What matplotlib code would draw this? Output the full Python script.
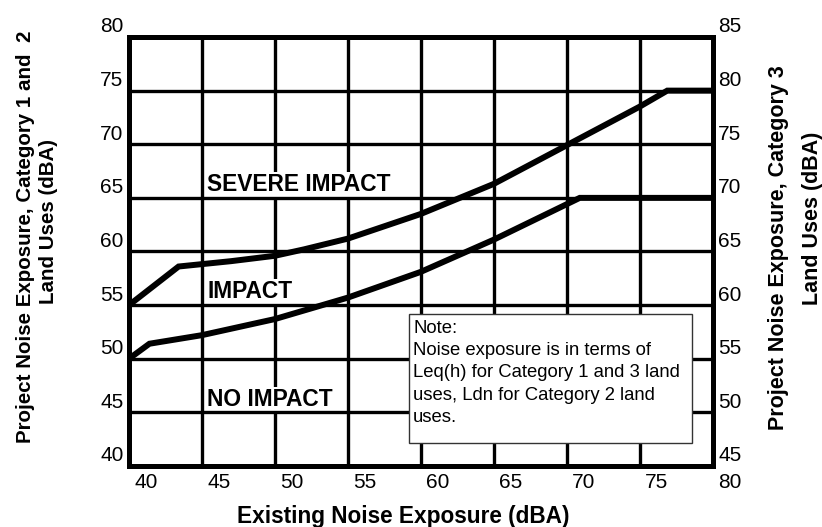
import matplotlib
matplotlib.use('Agg')
import matplotlib.pyplot as plt
from matplotlib.transforms import ScaledTranslation
from matplotlib.patches import Rectangle

plt.rcParams['font.family'] = ['Liberation Sans', 'DejaVu Sans']

# ---- data ----
x_ticks = [40, 45, 50, 55, 60, 65, 70, 75, 80]
y_left_ticks = [40, 45, 50, 55, 60, 65, 70, 75, 80]
y_right_ticks = [45, 50, 55, 60, 65, 70, 75, 80, 85]

severe_x = [40, 43.4, 47, 50, 52, 55, 60, 65, 70, 75, 76.9, 80]
severe_y = [55, 58.6, 59.1, 59.6, 60.2, 61.2, 63.5, 66.3, 69.9, 73.5, 75, 75]

impact_x = [40, 41.4, 45, 50, 53, 55, 60, 65, 70.9, 80]
impact_y = [50, 51.4, 52.2, 53.7, 54.9, 55.7, 58.1, 61.1, 65, 65]

zone_labels = ['SEVERE IMPACT', 'IMPACT', 'NO IMPACT']
note_text = ("Note:\nNoise exposure is in terms of\nLeq(h) for Category 1 and 3 land\n"
             "uses, Ldn for Category 2 land\nuses.")

W, H = 822, 527
fig = plt.figure(figsize=(W / 100, H / 100), dpi=100)
ax = fig.add_axes([129 / W, 1 - 466 / H, 583.5 / W, 429 / H])
ax.set_xlim(40, 80)
ax.set_ylim(40, 80)
ax.set_xticks(x_ticks)
ax.set_yticks(y_left_ticks)
ax.grid(True, color='black', linewidth=2.4)
ax.set_axisbelow(True)
# vertical grid lines under the zone labels, horizontal ones over their boxes
ax.xaxis.set_zorder(0.5)
ax.yaxis.set_zorder(3.5)

ax.plot(severe_x, severe_y, color='black', lw=4.3, solid_joinstyle='miter', zorder=2)
ax.plot(impact_x, impact_y, color='black', lw=4.3, solid_joinstyle='miter', zorder=2)

# zone labels
zone_pos = [(45.35, 65.64), (45.35, 55.66), (45.35, 45.59)]
for lab, (px, py) in zip(zone_labels, zone_pos):
    ax.text(px, py, lab, fontsize=16.4, fontweight='bold', ha='left', va='baseline',
            zorder=3, bbox=dict(facecolor='white', edgecolor='none', pad=1.0))

# note box
ax.add_patch(Rectangle((59.19, 42.14), 78.59 - 59.19, 54.17 - 42.14,
                       facecolor='white', edgecolor='#333333', lw=1.0, zorder=4))
ax.text(59.47, 53.61, note_text, fontsize=13.3, ha='left', va='top',
        linespacing=1.40, zorder=5)

ax.tick_params(length=0, labelsize=15, pad=5)
ax.tick_params(axis='y', pad=4)

ax2 = ax.twinx()
ax2.set_ylim(45, 85)
ax2.set_yticks(y_right_ticks)
ax2.tick_params(length=0, labelsize=15, pad=4)

for a in (ax, ax2):
    for s in a.spines.values():
        s.set_linewidth(3.6)
        s.set_color('black')

off_x = ScaledTranslation(0.17, 0, fig.dpi_scale_trans)
off_y = ScaledTranslation(0, 0.12, fig.dpi_scale_trans)
for lab in ax.get_xticklabels():
    lab.set_transform(lab.get_transform() + off_x)
for lab in ax.get_yticklabels():
    lab.set_transform(lab.get_transform() + off_y)
for lab in ax2.get_yticklabels():
    lab.set_transform(lab.get_transform() + off_y)

# axis titles
fig.text(403 / W, 1 - 517 / H, 'Existing Noise Exposure (dBA)', fontsize=16.3,
         fontweight='bold', ha='center', va='center')
fig.text(26 / W, 1 - 237 / H, 'Project Noise Exposure, Category 1 and  2', fontsize=14.8,
         fontweight='bold', ha='center', va='center', rotation=90)
fig.text(48 / W, 1 - 222 / H, 'Land Uses (dBA)', fontsize=14.8,
         fontweight='bold', ha='center', va='center', rotation=90)
fig.text(778 / W, 1 - 247.5 / H, 'Project Noise Exposure, Category 3', fontsize=15.5,
         fontweight='bold', ha='center', va='center', rotation=90)
fig.text(812 / W, 1 - 218.5 / H, 'Land Uses (dBA)', fontsize=15.5,
         fontweight='bold', ha='center', va='center', rotation=90)

fig.savefig('out.png', dpi=100)
